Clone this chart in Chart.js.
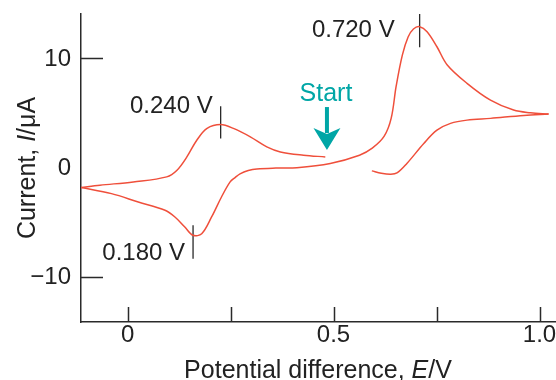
<!DOCTYPE html>
<html>
<head>
<meta charset="utf-8">
<title>Cyclic voltammogram</title>
<script src="https://cdn.jsdelivr.net/npm/chart.js@4.4.1/dist/chart.umd.min.js"></script>
<style>
  html, body { margin: 0; padding: 0; background: #fff; }
  #chart-cv { display: block; }
</style>
</head>
<body>
<canvas id="chart-cv" width="556" height="380"></canvas>
<script>
// ===================================================================
// Data (E in V, I in µA)
// ===================================================================

// from the start point towards negative potential (upper branch of the first couple)
const upperE = [0.480, 0.427, 0.371, 0.338, 0.298, 0.257, 0.226, 0.193, 0.168, 0.144, 0.120, 0.095, 0.014, -0.067, -0.113];
const upperI = [0.97, 1.13, 1.43, 1.89, 2.81, 3.58, 3.93, 3.58, 2.50, 0.97, -0.25, -0.86, -1.32, -1.62, -1.83];

// from the left edge through both couples up to the switching potential
const forwardE = [-0.113, -0.039, 0.026, 0.091, 0.115, 0.139, 0.159, 0.180, 0.204, 0.228, 0.249, 0.261, 0.273, 0.293, 0.314, 0.360, 0.411, 0.492,
                  0.563, 0.594, 0.623, 0.640, 0.652, 0.667, 0.681, 0.694, 0.709, 0.727, 0.751, 0.776, 0.824, 0.881, 0.937, 0.978, 1.022];
const forwardI = [-1.83, -2.39, -3.16, -3.92, -4.53, -5.45, -6.21, -6.06, -4.53, -2.70, -1.32, -0.92, -0.58, -0.28, -0.13, -0.05, -0.02, 0.37,
                  1.13, 1.77, 2.87, 4.52, 7.45, 10.30, 11.96, 12.69, 12.90, 12.44, 11.06, 9.39, 7.71, 6.17, 5.26, 5.01, 4.89];

// back from the switching potential (right part)
const returnE = [1.022, 0.962, 0.881, 0.824, 0.784, 0.751, 0.719, 0.678, 0.654, 0.638, 0.616, 0.593];
const returnI = [4.89, 4.77, 4.50, 4.34, 4.04, 3.42, 2.20, 0.37, -0.50, -0.61, -0.52, -0.31];

// peak markers
const peakE = [0.226, 0.159, 0.709];
const peakTopI = [5.62, -5.29, 14.06];
const peakBottomI = [2.66, -8.35, 11.01];
const peakLabels = ['0.240 V', '0.180 V', '0.720 V'];

// start arrow tip
const startE = 0.484;
const startI = 1.6;

// axes
const xRange = [-0.113, 1.04];
const yRange = [-14.15, 14.06];
const xTicks = [0, 0.25, 0.5, 0.75, 1.0];
const xTickLabels = ['0', '', '0.5', '', '1.0'];
const yTicks = [-10, 0, 10];
const yTickLabels = ['\u221210', '0', '10'];
const yTickMarks = [-10, 10];

// ===================================================================
// Styles
// ===================================================================
const CURVE_COLOR = '#ef4f3b';
const AXIS_COLOR = '#2a2a2a';
const TEXT_COLOR = '#222';
const START_COLOR = '#00a6a6';
const TITLE_FONT = "'Liberation Sans', Arial, sans-serif";
const NUMBER_FONT = "'Liberation Sans Narrow', 'Liberation Sans', Arial, sans-serif";

document.addEventListener('DOMContentLoaded', () => {
    renderVoltammogram();
});

function toPoints(xs, ys) {
    return xs.map((x, i) => ({ x, y: ys[i] }));
}

function curveDataset(xs, ys) {
    return {
        data: toPoints(xs, ys),
        showLine: true,
        borderColor: CURVE_COLOR,
        borderWidth: 1.5,
        pointRadius: 0,
        tension: 0.35
    };
}

function markerDataset(i) {
    return {
        data: [{ x: peakE[i], y: peakTopI[i] }, { x: peakE[i], y: peakBottomI[i] }],
        showLine: true,
        borderColor: AXIS_COLOR,
        borderWidth: 1.3,
        pointRadius: 0,
        tension: 0
    };
}

/**
 * Draw text made of upright / italic pieces, centred on (x, y)
 */
function drawRichText(ctx, parts, x, y, size) {
    const widths = parts.map(([text, italic]) => {
        ctx.font = `${italic ? 'italic ' : ''}${size}px ${TITLE_FONT}`;
        return ctx.measureText(text).width;
    });
    let cx = x - widths.reduce((a, b) => a + b, 0) / 2;
    ctx.textAlign = 'left';
    parts.forEach(([text, italic], i) => {
        ctx.font = `${italic ? 'italic ' : ''}${size}px ${TITLE_FONT}`;
        ctx.fillText(text, cx, y);
        cx += widths[i];
    });
}

// ticks, labels, titles, annotations
const decorPlugin = {
    id: 'decor',
    afterDraw(chart) {
        const { ctx, chartArea, scales: { x, y } } = chart;
        ctx.save();

        // inward tick marks
        ctx.strokeStyle = AXIS_COLOR;
        ctx.lineWidth = 1.5;
        ctx.beginPath();
        xTicks.forEach(v => {
            const px = Math.round(x.getPixelForValue(v)) + 0.5;
            ctx.moveTo(px, chartArea.bottom);
            ctx.lineTo(px, chartArea.bottom - 15);
        });
        yTickMarks.forEach(v => {
            const py = Math.round(y.getPixelForValue(v)) + 0.5;
            ctx.moveTo(chartArea.left, py);
            ctx.lineTo(chartArea.left + 22, py);
        });
        ctx.stroke();

        // tick labels
        ctx.fillStyle = TEXT_COLOR;
        ctx.font = `24px ${NUMBER_FONT}`;
        ctx.textBaseline = 'middle';
        ctx.textAlign = 'center';
        xTicks.forEach((v, i) => {
            if (xTickLabels[i]) ctx.fillText(xTickLabels[i], x.getPixelForValue(v), chartArea.bottom + 13);
        });
        ctx.textAlign = 'right';
        yTicks.forEach((v, i) => {
            ctx.fillText(yTickLabels[i], chartArea.left - 10, y.getPixelForValue(v) + 1);
        });

        // peak labels
        const labelLayout = [
            { dx: -8, py: y.getPixelForValue(peakTopI[0]) },
            { dx: -8, py: y.getPixelForValue(peakBottomI[1]) - 5 },
            { dx: -25, py: (y.getPixelForValue(peakTopI[2]) + y.getPixelForValue(peakBottomI[2])) / 2 }
        ];
        peakLabels.forEach((text, i) => {
            ctx.fillText(text, x.getPixelForValue(peakE[i]) + labelLayout[i].dx, labelLayout[i].py);
        });

        // axis titles
        ctx.textBaseline = 'alphabetic';
        drawRichText(ctx, [['Potential difference, ', false], ['E', true], ['/V', false]], 318, 378, 25);
        ctx.save();
        ctx.translate(35, 168);
        ctx.rotate(-Math.PI / 2);
        drawRichText(ctx, [['Current, ', false], ['I', true], ['/\u03bcA', false]], 0, 0, 25);
        ctx.restore();

        // start arrow
        const tx = x.getPixelForValue(startE);
        const ty = y.getPixelForValue(startI);
        ctx.fillStyle = START_COLOR;
        ctx.strokeStyle = START_COLOR;
        ctx.lineWidth = 4;
        ctx.beginPath();
        ctx.moveTo(tx, ty - 43);
        ctx.lineTo(tx, ty - 17);
        ctx.stroke();
        ctx.beginPath();
        ctx.moveTo(tx, ty);
        ctx.lineTo(tx - 13.5, ty - 22);
        ctx.lineTo(tx, ty - 16);
        ctx.lineTo(tx + 13.5, ty - 22);
        ctx.closePath();
        ctx.fill();
        ctx.font = `25px ${TITLE_FONT}`;
        ctx.textAlign = 'center';
        ctx.textBaseline = 'middle';
        ctx.fillText('Start', tx - 1, ty - 56);

        ctx.restore();
    }
};

function renderVoltammogram() {
    const canvas = document.getElementById('chart-cv');
    const axisOpts = (range) => ({
        type: 'linear',
        min: range[0],
        max: range[1],
        grid: { display: false, drawTicks: false },
        ticks: { display: false },
        border: { display: true, color: AXIS_COLOR, width: 1.5 }
    });

    new Chart(canvas.getContext('2d'), {
        type: 'scatter',
        data: {
            datasets: [
                curveDataset(upperE, upperI),
                curveDataset(forwardE, forwardI),
                curveDataset(returnE, returnI),
                markerDataset(0),
                markerDataset(1),
                markerDataset(2)
            ]
        },
        options: {
            responsive: false,
            animation: false,
            layout: { padding: { left: 81, top: 14, right: 0, bottom: 58 } },
            plugins: {
                legend: { display: false },
                tooltip: { enabled: false }
            },
            scales: {
                x: axisOpts(xRange),
                y: axisOpts(yRange)
            }
        },
        plugins: [decorPlugin]
    });
}
</script>
</body>
</html>
